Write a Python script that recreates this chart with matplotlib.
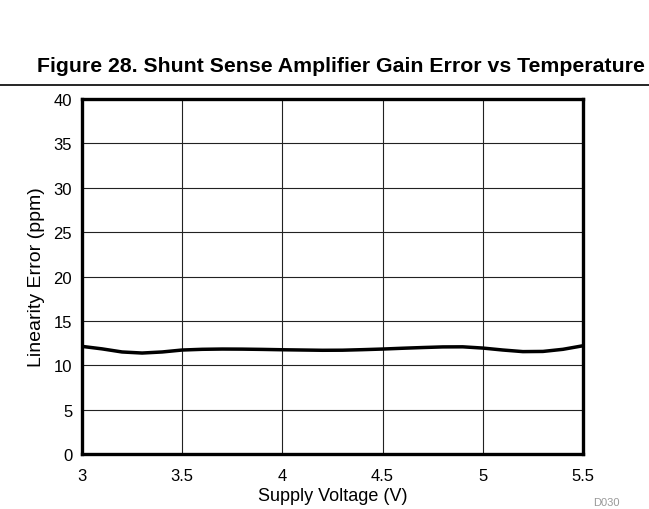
import matplotlib
matplotlib.use('Agg')
from matplotlib import pyplot as plt
from matplotlib.lines import Line2D

plt.rcParams['font.family'] = ['Liberation Sans', 'DejaVu Sans']

# 读图得到的数据
voltage = [3.0, 3.1, 3.2, 3.3, 3.4, 3.5, 3.6, 3.7, 3.8, 3.9, 4.0, 4.1, 4.2,
           4.3, 4.4, 4.5, 4.6, 4.7, 4.8, 4.9, 5.0, 5.1, 5.2, 5.3, 5.4, 5.5]
lin_error = [12.13, 11.85, 11.5, 11.38, 11.5, 11.72, 11.8, 11.83, 11.82, 11.79, 11.75,
             11.72, 11.69, 11.7, 11.76, 11.83, 11.92, 12.0, 12.07, 12.08, 11.94,
             11.72, 11.54, 11.56, 11.8, 12.2]
x_ticks = [3, 3.5, 4, 4.5, 5, 5.5]
x_tick_labels = ['3', '3.5', '4', '4.5', '5', '5.5']
y_ticks = [0, 5, 10, 15, 20, 25, 30, 35, 40]

fig = plt.figure(figsize=(6.49, 5.10), dpi=100)
ax = fig.add_axes([0.1263, 0.1078, 0.772, 0.696])

ax.plot(voltage, lin_error, color='black', linewidth=2.5, zorder=3)

ax.set_xlim(3, 5.5)
ax.set_ylim(0, 40)
ax.set_xticks(x_ticks)
ax.set_xticklabels(x_tick_labels)
ax.set_yticks(y_ticks)
ax.grid(True, color='#222222', linewidth=0.8)
ax.tick_params(axis='both', length=0, labelsize=12)
ax.tick_params(axis='x', pad=10)
ax.tick_params(axis='y', pad=7)
for s in ax.spines.values():
    s.set_linewidth(2.4)

ax.set_xlabel('Supply Voltage (V)', fontsize=13, labelpad=3)
ax.set_ylabel('Linearity Error (ppm)', fontsize=14, labelpad=6)

fig.text(0.994, 0.870, 'Figure 28. Shunt Sense Amplifier Gain Error vs Temperature',
         fontsize=15.3, fontweight='bold', ha='right', va='center')
fig.add_artist(Line2D([0, 1], [0.831, 0.831], color='black', linewidth=1.2,
                      transform=fig.transFigure))
fig.text(0.935, 0.013, 'D030', fontsize=8, color='#999999', ha='center', va='center')

plt.savefig('out.png', dpi=100)
